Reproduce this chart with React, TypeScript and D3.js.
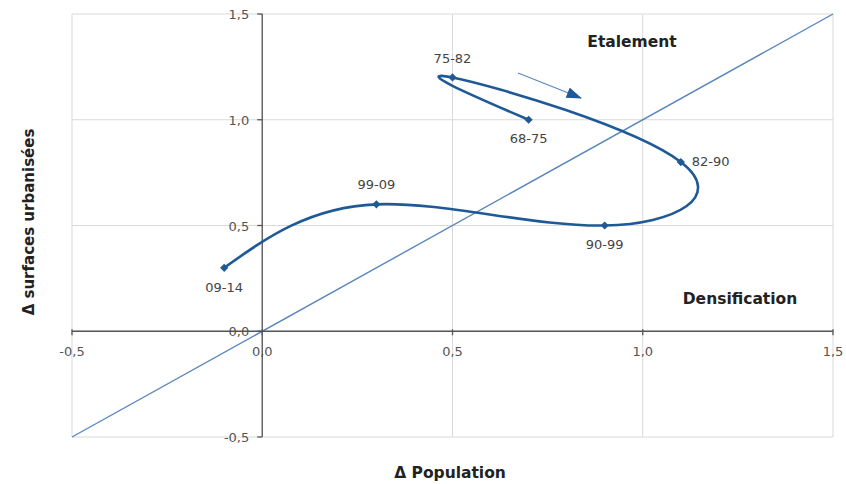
import React from "react";
import * as d3 from "d3";

const periods = ["68-75", "75-82", "82-90", "90-99", "99-09", "09-14"];
const deltaPop = [0.7, 0.5, 1.1, 0.9, 0.3, -0.1];
const deltaSurf = [1.0, 1.2, 0.8, 0.5, 0.6, 0.3];
const tickValues = [-0.5, 0, 0.5, 1.0, 1.5];
const diagonal = [-0.5, 1.5];

const W = 846, H = 484;
const M = { left: 72, right: 13, top: 14, bottom: 47 };

export default function App() {
  const x = d3.scaleLinear().domain([-0.5, 1.5]).range([M.left, W - M.right]);
  const y = d3.scaleLinear().domain([-0.5, 1.5]).range([H - M.bottom, M.top]);
  const fmt = (v: number) => v.toFixed(1).replace(".", ",");
  const pts = periods.map((p, i) => ({ p, x: x(deltaPop[i]), y: y(deltaSurf[i]) }));
  const line = d3.line<{ x: number; y: number }>().x(d => d.x).y(d => d.y).curve(d3.curveNatural);
  const font = "'DejaVu Sans', sans-serif";
  const x0 = x(0), y0 = y(0);
  const labelPos: Record<string, [number, number, string]> = {
    "68-75": [0, 23, "middle"],
    "75-82": [0, -14, "middle"],
    "82-90": [11, 4, "start"],
    "90-99": [0, 23, "middle"],
    "99-09": [0, -15, "middle"],
    "09-14": [0, 24, "middle"],
  };
  const diamond = d3.symbol().type(d3.symbolSquare).size(34)();
  return (
    <svg width={W} height={H} style={{ position: "absolute", left: 0, top: 0, background: "#fff" }}>
      <defs>
        <marker id="ah2" viewBox="0 0 14 10" refX="13" refY="5" markerWidth="16" markerHeight="11" orient="auto" markerUnits="userSpaceOnUse">
          <path d="M0,0 L14,5 L0,10 z" fill="#1f5a96" />
        </marker>
      </defs>
      {tickValues.map(t => (
        <g key={"g" + t}>
          <line x1={x(t)} x2={x(t)} y1={M.top} y2={H - M.bottom} stroke="#d9d9d9" strokeWidth={1} />
          <line x1={M.left} x2={W - M.right} y1={y(t)} y2={y(t)} stroke="#d9d9d9" strokeWidth={1} />
        </g>
      ))}
      <line x1={x(diagonal[0])} y1={y(diagonal[0])} x2={x(diagonal[1])} y2={y(diagonal[1])} stroke="#5a86bd" strokeWidth={1.4} />
      <line x1={M.left} x2={W - M.right} y1={y0} y2={y0} stroke="#555" strokeWidth={1.3} />
      <line x1={x0} x2={x0} y1={M.top} y2={H - M.bottom} stroke="#555" strokeWidth={1.3} />
      {tickValues.map(t => (
        <g key={"t" + t}>
          <line x1={x(t)} x2={x(t)} y1={y0 - 2} y2={y0 + 4} stroke="#555" strokeWidth={1.3} />
          <line x1={x0 - 5} x2={x0} y1={y(t)} y2={y(t)} stroke="#555" strokeWidth={1.3} />
          <text x={x(t)} y={y0 + 25} textAnchor="middle" fontFamily={font} fontSize={13} fill="#555">{fmt(t)}</text>
          <text x={x0 - 13} y={y(t) + 5} textAnchor="end" fontFamily={font} fontSize={13} fill="#555">{fmt(t)}</text>
        </g>
      ))}
      <path d={line(pts) || ""} fill="none" stroke="#1f5a96" strokeWidth={2.6} />
      {pts.map(d => (
        <path key={d.p} d={diamond} transform={`translate(${d.x},${d.y}) rotate(45)`} fill="#1f5a96" />
      ))}
      {pts.map(d => {
        const [dx, dy, a] = labelPos[d.p];
        return (
          <text key={"l" + d.p} x={d.x + dx} y={d.y + dy} textAnchor={a} fontFamily={font} fontSize={13} fill="#444">{d.p}</text>
        );
      })}
      <line x1={518} y1={73} x2={581} y2={98} stroke="#5a86bd" strokeWidth={1.2} markerEnd="url(#ah2)" />
      <text x={632} y={47} textAnchor="middle" fontFamily={font} fontSize={15.5} fontWeight="bold" fill="#222">Etalement</text>
      <text x={740} y={304} textAnchor="middle" fontFamily={font} fontSize={15.5} fontWeight="bold" fill="#222">Densification</text>
      <text x={450} y={478} textAnchor="middle" fontFamily={font} fontSize={15.5} fontWeight="bold" fill="#222">Δ Population</text>
      <text transform={`translate(34,222) rotate(-90)`} textAnchor="middle" fontFamily={font} fontSize={15} fontWeight="bold" fill="#222">Δ surfaces urbanisées</text>
    </svg>
  );
}
